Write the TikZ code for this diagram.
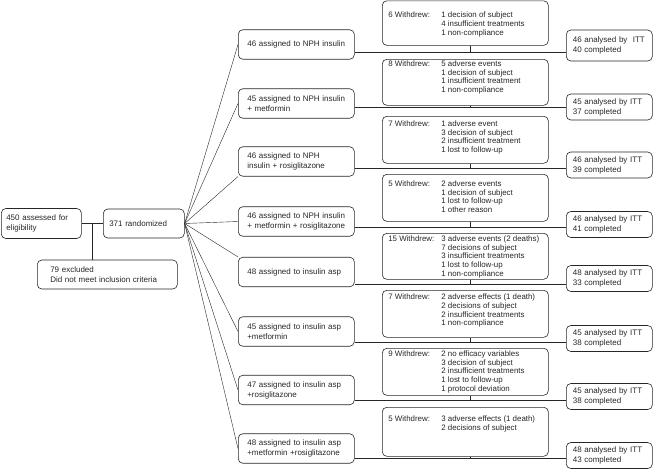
\documentclass[tikz,border=0pt]{standalone}
\usepackage{fontspec}
\setmainfont{Liberation Sans}
\tikzset{%
  % Specifications for style of nodes:
       base/.style = {rectangle, rounded corners=4.5pt, draw,
                      line width=0.6pt, inner ysep=1pt,
                      font=\fontsize{8}{10}\selectfont},
      entry/.style = {base, align=left, anchor=west},
     armbox/.style = {entry, text width=98pt, inner xsep=9pt,
                      minimum height=29.5pt},
    quitbox/.style = {base, inner xsep=6pt, anchor=north west,
                      font=\fontsize{7.9}{8.7}\selectfont},
     ittbox/.style = {entry, text width=73pt, inner xsep=6.5pt,
                      minimum height=26pt},
}
% height, top gap, number, reasons
\newcommand{\quitlist}[4]{%
  \parbox[t][#1][t]{154pt}{\vspace*{#2}%
    \makebox[53pt][l]{#3 Withdrew:}%
    \begin{tabular}[t]{@{}l@{}}#4\end{tabular}}}

\begin{document}
\begin{tikzpicture}[x=1pt, y=-1pt, color=black!85]
  \useasboundingbox (0,0) rectangle (653,469);

  % Screening and randomization
  \node (assess) [entry, text width=70pt, inner xsep=5pt, minimum height=30pt]
        at (1,223.5) {450 assessed for\\eligibility};
  \node (rand)   [entry, text width=69pt, inner xsep=6pt, minimum height=29pt]
        at (103,223.5) {371 randomized};
  \node (excl)   [entry, text width=114pt, inner xsep=13pt, minimum height=29pt]
        at (37,274.5) {79 excluded\\Did not meet inclusion criteria};
  \coordinate (split) at (92,223.5);

  % Treatment arms
  \node (arm1) [armbox] at (238,44.5)  {46 assigned to NPH insulin};
  \node (arm2) [armbox] at (238,103.5) {45 assigned to NPH insulin\\+ metformin};
  \node (arm3) [armbox] at (238,161.5) {46 assigned to NPH\\insulin + rosiglitazone};
  \node (arm4) [armbox] at (238,221.5) {46 assigned to NPH insulin\\+ metformin + rosiglitazone};
  \node (arm5) [armbox] at (238,272)   {48 assigned to insulin asp};
  \node (arm6) [armbox] at (238,331.5) {45 assigned to insulin asp\\+metformin};
  \node (arm7) [armbox] at (238,390)   {47 assigned to insulin asp\\+rosiglitazone};
  \node (arm8) [armbox] at (238,448.5) {48 assigned to insulin asp\\+metformin +rosiglitazone};

  % Withdrawals
  \node (quit1) [quitbox] at (382,0.5) {\quitlist{42.5pt}{10pt}{6}{1 decision of subject\\
        4 insufficient treatments\\1 non-compliance}};
  \node (quit2) [quitbox] at (382,59)  {\quitlist{44pt}{0pt}{8}{5 adverse events\\
        1 decision of subject\\1 insufficient treatment\\1 non-compliance}};
  \node (quit3) [quitbox] at (382,116) {\quitlist{45pt}{3pt}{7}{1 adverse event\\
        3 decision of subject\\2 insufficient treatment\\1 lost to follow-up}};
  \node (quit4) [quitbox] at (382,174) {\quitlist{45pt}{5pt}{5}{2 adverse events\\
        1 decision of subject\\1 lost to follow-up\\1 other reason}};
  \node (quit5) [quitbox] at (382,233) {\quitlist{44pt}{1pt}{15}{3 adverse events (2 deaths)\\
        7 decisions of subject\\3 insufficient treatments\\1 lost to follow-up\\1 non-compliance}};
  \node (quit6) [quitbox] at (382,290) {\quitlist{45pt}{2.5pt}{7}{2 adverse effects (1 death)\\
        2 decisions of subject\\2 insufficient treatments\\1 non-compliance}};
  \node (quit7) [quitbox] at (382,348) {\quitlist{45pt}{1pt}{9}{2 no efficacy variables\\
        3 decision of subject\\2 insufficient treatments\\1 lost to follow-up\\1 protocol deviation}};
  \node (quit8) [quitbox] at (382,407) {\quitlist{47pt}{7.5pt}{5}{3 adverse effects (1 death)\\
        2 decisions of subject}};

  % Analysis
  \node (itt1) [ittbox, minimum height=31pt] at (566,45.5) {46 analysed by\ \ ITT\\40 completed};
  \node (itt2) [ittbox] at (566,107)   {45 analysed by ITT\\37 completed};
  \node (itt3) [ittbox] at (566,165)   {46 analysed by ITT\\39 completed};
  \node (itt4) [ittbox] at (566,224.5) {46 analysed by ITT\\41 completed};
  \node (itt5) [ittbox] at (566,278.5) {48 analysed by ITT\\33 completed};
  \node (itt6) [ittbox] at (566,338.5) {45 analysed by ITT\\38 completed};
  \node (itt7) [ittbox] at (566,396.5) {45 analysed by ITT\\38 completed};
  \node (itt8) [ittbox] at (566,455.5) {48 analysed by ITT\\43 completed};

  % Rows of the horizontal lines
  \coordinate (row1) at (0,52);
  \coordinate (row2) at (0,107.5);
  \coordinate (row3) at (0,168);
  \coordinate (row4) at (0,227);
  \coordinate (row5) at (0,284);
  \coordinate (row6) at (0,342);
  \coordinate (row7) at (0,400);
  \coordinate (row8) at (0,458);

  % Lines between the nodes
  \draw (assess) -- (rand);
  \draw (split) -- (split |- excl.north);

  \draw (rand.east) -- (arm1.west);
  \draw (rand.east) -- (arm2.west);
  \draw (rand.east) -- (arm3.south west);
  \draw (rand.east) -- (arm4.west);
  \draw (rand.east) -- (arm5.north west);
  \draw (rand.east) -- (arm6.west);
  \draw (rand.east) -- (arm7.west);
  \draw (rand.east) -- (arm8.west);

  \draw (arm1.east |- row1) -- (itt1.west |- row1);
  \draw (arm2.east |- row2) -- (itt2.west |- row2);
  \draw (arm3.east |- row3) -- (itt3.west |- row3);
  \draw (arm4.east |- row4) -- (itt4.west |- row4);
  \draw (arm5.east |- row5) -- (itt5.west |- row5);
  \draw (arm6.east |- row6) -- (itt6.west |- row6);
  \draw (arm7.east |- row7) -- (itt7.west |- row7);
  \draw (arm8.east |- row8) -- (itt8.west |- row8);

  \draw ([xshift=5pt]quit1.south) -- ([xshift=5pt]quit1.south |- row1);
  \draw ([xshift=5pt]quit2.south) -- ([xshift=5pt]quit2.south |- row2);
  \draw ([xshift=5pt]quit3.south) -- ([xshift=5pt]quit3.south |- row3);
  \draw ([xshift=5pt]quit4.south) -- ([xshift=5pt]quit4.south |- row4);
  \draw ([xshift=5pt]quit5.south) -- ([xshift=5pt]quit5.south |- row5);
  \draw ([xshift=5pt]quit6.south) -- ([xshift=5pt]quit6.south |- row6);
  \draw ([xshift=5pt]quit7.south) -- ([xshift=5pt]quit7.south |- row7);
  \draw ([xshift=5pt]quit8.south) -- ([xshift=5pt]quit8.south |- row8);
\end{tikzpicture}
\end{document}
